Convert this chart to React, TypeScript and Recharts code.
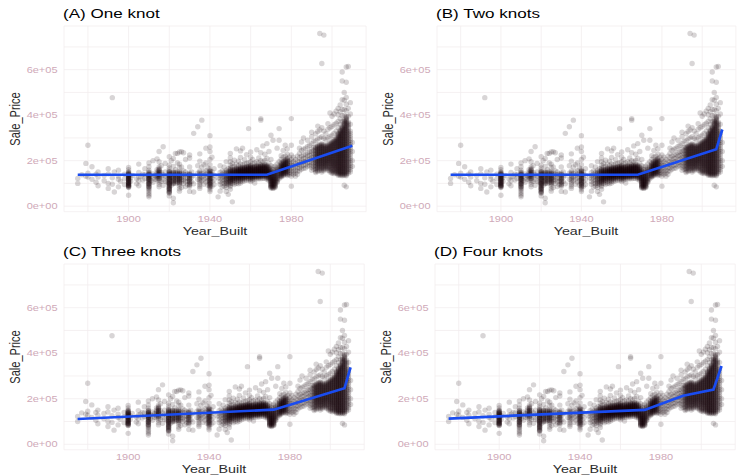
import React from 'react';
import { ScatterChart, Scatter, XAxis, YAxis, CartesianGrid } from 'recharts';

const salePriceByYear: [number, number[]][] = [
  [1875, [100, 122]],
  [1877, [138]],
  [1879, [188, 132]],
  [1880, [268, 128, 145]],
  [1882, [173, 118]],
  [1884, [140, 105]],
  [1885, [128, 90, 150]],
  [1888, [135, 112]],
  [1890, [165, 142, 100, 78]],
  [1892, [477, 125, 96]],
  [1893, [150, 62]],
  [1895, [132, 118, 85, 158]],
  [1896, [110]],
  [1898, [140, 120, 95]],
  [1900, [150, 146, 143, 140, 137, 135, 132, 130, 128, 125, 122, 120, 117, 115, 112, 110, 107, 105, 102, 100, 97, 95, 92, 90, 88, 85, 82, 140, 131, 118, 104, 93, 48, 170, 160]],
  [1901, [125, 110]],
  [1902, [135]],
  [1904, [120, 98]],
  [1905, [148, 128, 112, 90, 185]],
  [1906, [132]],
  [1907, [115, 140]],
  [1908, [138, 122, 165]],
  [1910, [158, 150, 145, 141, 138, 134, 131, 128, 125, 121, 118, 115, 111, 108, 104, 100, 96, 92, 88, 84, 80, 76, 70, 62, 55, 48, 41, 173, 190, 136, 119, 98]],
  [1911, [130, 112]],
  [1912, [142, 125, 105, 200]],
  [1913, [135, 118]],
  [1914, [160, 150, 143, 137, 130, 124, 115, 208]],
  [1915, [172, 165, 160, 155, 150, 146, 142, 138, 134, 128, 122, 115, 105, 95, 85, 240, 195]],
  [1916, [148, 128, 108, 178]],
  [1917, [138, 118, 261, 92]],
  [1918, [150, 132, 110, 188]],
  [1919, [128, 105]],
  [1920, [158, 152, 148, 144, 140, 136, 132, 128, 124, 120, 116, 112, 108, 104, 100, 96, 92, 88, 84, 80, 76, 72, 68, 64, 60, 57, 217, 180, 168, 45, 138, 118, 98, 78]],
  [1921, [145, 128, 110, 92, 200]],
  [1922, [151, 145, 140, 134, 128, 122, 116, 110, 104, 98, 210, 35, 15, 175]],
  [1923, [148, 141, 135, 129, 122, 115, 108, 100, 160, 232]],
  [1924, [150, 144, 138, 131, 125, 118, 111, 104, 232, 190]],
  [1925, [152, 147, 142, 137, 132, 127, 122, 117, 112, 107, 102, 96, 88, 76, 66, 170, 185, 238]],
  [1926, [146, 136, 126, 116, 106, 239, 172, 82]],
  [1927, [140, 128, 115, 100, 235, 155]],
  [1928, [150, 138, 122, 108, 205, 86]],
  [1929, [142, 125, 110, 94]],
  [1930, [146, 141, 136, 131, 126, 121, 116, 110, 104, 98, 92, 86, 172, 212, 225, 65]],
  [1931, [128, 108, 150]],
  [1932, [320, 135, 98, 62]],
  [1934, [349, 145, 118, 178]],
  [1935, [155, 148, 142, 136, 130, 124, 117, 110, 102, 94, 86, 198, 230, 78]],
  [1936, [378, 144, 128, 112, 172]],
  [1937, [150, 134, 118, 96, 182]],
  [1938, [156, 140, 124, 106, 255, 190]],
  [1939, [146, 128, 112, 92, 168]],
  [1940, [162, 156, 151, 147, 143, 139, 135, 131, 127, 123, 119, 115, 111, 107, 103, 99, 95, 90, 85, 80, 72, 64, 310, 260, 240, 205, 182]],
  [1941, [152, 138, 124, 108, 88, 215]],
  [1942, [136, 116, 95, 165]],
  [1944, [41, 125]],
  [1945, [148, 135, 122, 108, 96, 66, 178]],
  [1946, [155, 140, 128, 116, 102, 84]],
  [1947, [148, 136, 125, 113, 100, 88, 172]],
  [1948, [158, 150, 143, 136, 129, 122, 115, 108, 100, 92, 82, 196, 65]],
  [1949, [152, 144, 136, 128, 120, 112, 104, 96, 165, 52]],
  [1950, [168, 162, 157, 152, 148, 144, 140, 136, 132, 128, 124, 120, 116, 112, 108, 103, 98, 92, 86, 180, 195, 212, 232, 74]],
  [1951, [160, 153, 146, 139, 132, 125, 118, 110, 100, 172, 188, 19]],
  [1952, [164, 157, 150, 144, 138, 132, 126, 119, 112, 104, 95, 176, 202]],
  [1953, [168, 161, 155, 149, 143, 137, 131, 125, 118, 110, 100, 184, 252]],
  [1954, [166, 160, 155, 150, 145, 140, 135, 130, 125, 120, 114, 107, 98, 178, 198]],
  [1955, [172, 166, 161, 156, 151, 147, 143, 139, 135, 131, 126, 121, 116, 110, 102, 186, 214, 243]],
  [1956, [170, 164, 158, 153, 148, 144, 140, 136, 132, 127, 122, 116, 108, 182, 255]],
  [1957, [172, 167, 162, 157, 152, 148, 144, 140, 136, 131, 126, 120, 112, 186, 204]],
  [1958, [174, 168, 163, 158, 153, 149, 145, 141, 137, 132, 127, 121, 114, 188, 226]],
  [1959, [176, 170, 165, 160, 155, 150, 146, 142, 138, 133, 128, 122, 115, 341, 192]],
  [1960, [180, 174, 169, 164, 159, 155, 151, 147, 143, 139, 135, 131, 126, 121, 115, 108, 196, 215, 238]],
  [1961, [172, 166, 160, 155, 150, 146, 142, 138, 133, 128, 122, 115, 186, 205]],
  [1962, [176, 170, 164, 159, 154, 150, 146, 142, 137, 132, 126, 119, 190, 102]],
  [1963, [178, 172, 166, 161, 156, 151, 147, 143, 138, 133, 127, 120, 195, 248]],
  [1964, [176, 170, 165, 160, 155, 151, 147, 143, 138, 133, 127, 120, 190, 212]],
  [1965, [182, 176, 170, 165, 160, 155, 151, 147, 143, 139, 134, 128, 121, 200, 235, 385, 378]],
  [1966, [180, 174, 168, 163, 158, 153, 149, 145, 141, 136, 130, 123, 196, 265]],
  [1967, [184, 177, 171, 165, 160, 155, 150, 146, 141, 136, 130, 122, 202, 228]],
  [1968, [180, 174, 168, 162, 157, 152, 147, 143, 138, 132, 125, 118, 210, 275]],
  [1969, [172, 165, 158, 152, 146, 140, 134, 127, 120, 112, 188, 240]],
  [1970, [165, 156, 148, 140, 132, 126, 120, 115, 110, 105, 100, 95, 90, 85, 80, 178, 205, 312]],
  [1971, [160, 150, 141, 133, 126, 119, 113, 107, 101, 95, 89, 83, 78, 172, 290]],
  [1972, [162, 152, 143, 135, 127, 120, 113, 106, 100, 94, 88, 82, 176]],
  [1973, [168, 158, 149, 140, 131, 122, 113, 104, 186, 255]],
  [1974, [176, 168, 160, 152, 144, 136, 128, 120, 195, 341, 290]],
  [1975, [190, 182, 176, 170, 164, 158, 152, 146, 140, 134, 128, 205, 222]],
  [1976, [198, 190, 183, 177, 171, 165, 159, 153, 147, 141, 134, 215, 245]],
  [1977, [205, 197, 190, 184, 178, 172, 166, 160, 154, 148, 140, 220, 268]],
  [1978, [210, 202, 195, 188, 181, 174, 167, 160, 152, 144, 135, 228, 252]],
  [1979, [198, 188, 178, 168, 158, 148, 138, 215]],
  [1980, [205, 192, 180, 168, 156, 144, 132, 225, 268, 385, 88]],
  [1981, [195, 180, 166, 152, 140, 215]],
  [1982, [188, 172, 158, 145, 132, 205]],
  [1983, [198, 182, 168, 154, 140, 220]],
  [1984, [212, 196, 182, 168, 155, 232, 255]],
  [1985, [220, 204, 190, 176, 162, 245, 282]],
  [1986, [225, 210, 195, 180, 166, 250, 300]],
  [1987, [228, 212, 196, 182, 168, 255]],
  [1988, [235, 220, 205, 190, 175, 262, 290]],
  [1989, [240, 224, 208, 192, 178, 268]],
  [1990, [250, 238, 226, 214, 203, 192, 181, 170, 158, 275, 305, 325]],
  [1991, [258, 244, 230, 216, 203, 190, 176, 162, 285]],
  [1992, [262, 252, 242, 232, 222, 212, 202, 192, 182, 172, 160, 148, 288, 318]],
  [1993, [268, 258, 249, 240, 231, 222, 213, 204, 195, 186, 176, 165, 152, 296, 328, 352]],
  [1994, [272, 262, 253, 244, 235, 226, 217, 208, 199, 190, 180, 170, 158, 300, 335, 759]],
  [1995, [275, 266, 257, 248, 239, 230, 221, 212, 203, 194, 185, 175, 164, 150, 305, 345, 627]],
  [1996, [270, 260, 251, 242, 233, 224, 215, 206, 197, 188, 178, 168, 156, 298, 330, 752]],
  [1997, [266, 256, 247, 238, 229, 220, 211, 202, 193, 184, 174, 163, 292, 318]],
  [1998, [272, 263, 254, 245, 236, 227, 218, 209, 200, 191, 181, 170, 158, 300, 338, 362]],
  [1999, [278, 268, 259, 250, 241, 232, 223, 214, 205, 196, 186, 175, 163, 150, 306, 345, 410]],
  [2000, [285, 276, 267, 258, 249, 240, 231, 222, 213, 204, 195, 186, 177, 167, 156, 145, 312, 350, 395]],
  [2001, [292, 283, 274, 265, 256, 247, 238, 229, 220, 211, 202, 193, 184, 175, 165, 154, 143, 320, 358, 405]],
  [2002, [300, 291, 282, 273, 264, 255, 246, 237, 228, 219, 210, 201, 192, 183, 174, 165, 155, 145, 330, 365, 418]],
  [2003, [320, 312, 304, 296, 288, 280, 272, 264, 256, 248, 240, 232, 224, 216, 208, 200, 192, 184, 176, 168, 160, 152, 144, 136, 345, 372, 402, 430]],
  [2004, [335, 327, 319, 311, 303, 295, 287, 279, 271, 263, 255, 247, 239, 231, 223, 215, 207, 199, 191, 183, 175, 167, 159, 151, 143, 135, 360, 385, 415, 445]],
  [2005, [350, 342, 334, 326, 318, 310, 302, 294, 286, 278, 270, 262, 254, 246, 238, 230, 222, 214, 206, 198, 190, 182, 174, 166, 158, 150, 142, 134, 372, 398, 425, 468, 550, 590]],
  [2006, [378, 369, 360, 351, 342, 333, 324, 315, 306, 297, 288, 279, 270, 261, 252, 243, 234, 225, 216, 207, 198, 189, 180, 171, 162, 153, 144, 135, 400, 425, 466, 500, 92]],
  [2007, [395, 386, 377, 368, 359, 350, 341, 332, 323, 314, 305, 296, 287, 278, 269, 260, 251, 242, 233, 224, 215, 206, 197, 188, 179, 170, 161, 152, 143, 134, 420, 448, 478, 612, 545, 85]],
  [2008, [370, 355, 340, 325, 310, 295, 280, 265, 250, 235, 220, 205, 190, 175, 160, 145, 395, 430, 614]],
  [2009, [330, 310, 290, 270, 250, 230, 210, 190, 170, 150, 360, 405, 455]],
  [2010, [280, 240, 200, 175]],
];

// extra readings inside the solid black cores of the cloud
const denseCoreByYear: [number, number[]][] = [
  [1900, [148, 138, 126, 114, 103, 91, 84]],
  [1910, [147, 139, 129, 119, 109, 98, 86]],
  [1915, [158, 148, 140, 131, 124]],
  [1920, [150, 142, 134, 126, 118, 110, 102, 94, 86, 74, 62]],
  [1922, [148, 137, 125, 113, 101]],
  [1925, [145, 135, 125, 115, 104]],
  [1930, [139, 128, 118, 107, 95]],
  [1940, [154, 145, 137, 129, 121, 113, 105, 97, 88]],
  [1948, [146, 132, 118, 104]],
  [1950, [158, 150, 142, 134, 126, 118, 110]],
  [1951, [156, 149, 142, 135, 128, 121, 114]],
  [1952, [160, 153, 147, 141, 135, 129, 122, 115]],
  [1953, [164, 158, 152, 146, 140, 134, 128, 121]],
  [1954, [162, 157, 152, 147, 142, 137, 132, 127, 122]],
  [1955, [168, 163, 158, 153, 149, 145, 141, 137, 133, 128]],
  [1956, [167, 161, 155, 150, 146, 142, 138, 134, 129, 124]],
  [1957, [169, 164, 159, 154, 150, 146, 142, 138, 133, 128]],
  [1958, [171, 165, 160, 155, 151, 147, 143, 139, 134, 129]],
  [1959, [173, 167, 162, 157, 152, 148, 144, 140, 135, 130]],
  [1960, [177, 171, 166, 161, 157, 153, 149, 145, 141, 137, 133, 128]],
  [1961, [169, 163, 157, 152, 148, 144, 140, 135, 130, 125]],
  [1962, [173, 167, 161, 156, 152, 148, 144, 139, 134, 129]],
  [1963, [175, 169, 163, 158, 153, 149, 145, 140, 135, 130]],
  [1964, [173, 167, 162, 157, 153, 149, 145, 140, 135, 130]],
  [1965, [179, 173, 167, 162, 157, 153, 149, 145, 141, 136, 131]],
  [1966, [177, 171, 165, 160, 155, 151, 147, 143, 138, 133]],
  [1967, [180, 174, 168, 162, 157, 152, 148, 143, 138, 133]],
  [1968, [177, 171, 165, 159, 154, 149, 145, 140, 135, 128]],
  [1969, [168, 161, 155, 149, 143, 137, 130, 123]],
  [1970, [152, 144, 136, 129, 123, 117, 112, 107, 102, 97, 92, 87, 82]],
  [1971, [145, 137, 129, 122, 116, 110, 104, 98, 92, 86, 80]],
  [1972, [148, 139, 131, 123, 116, 109, 103, 97, 91, 85]],
  [1973, [163, 153, 144, 135, 126, 117, 108]],
  [1975, [186, 179, 173, 167, 161, 155, 149, 143, 137, 131]],
  [1976, [194, 186, 180, 174, 168, 162, 156, 150, 144, 137]],
  [1977, [201, 193, 187, 181, 175, 169, 163, 157, 151, 144]],
  [1978, [206, 198, 191, 184, 177, 170, 163, 156, 148, 140]],
  [1992, [257, 247, 237, 227, 217, 207, 197, 187, 177, 166, 154]],
  [1993, [263, 253, 244, 235, 226, 217, 208, 199, 190, 181, 170, 158]],
  [1994, [267, 257, 248, 239, 230, 221, 212, 203, 194, 185, 175, 164]],
  [1995, [270, 261, 252, 243, 234, 225, 216, 207, 198, 189, 180, 170, 157]],
  [1996, [265, 255, 246, 237, 228, 219, 210, 201, 192, 183, 173, 162]],
  [1997, [261, 251, 242, 233, 224, 215, 206, 197, 188, 179, 168]],
  [1998, [267, 258, 249, 240, 231, 222, 213, 204, 195, 186, 175, 164]],
  [1999, [273, 263, 254, 245, 236, 227, 218, 209, 200, 191, 180, 169, 156]],
  [2000, [280, 271, 262, 253, 244, 235, 226, 217, 208, 199, 190, 181, 172, 161, 150]],
  [2001, [287, 278, 269, 260, 251, 242, 233, 224, 215, 206, 197, 188, 179, 170, 159, 148]],
  [2002, [295, 286, 277, 268, 259, 250, 241, 232, 223, 214, 205, 196, 187, 178, 169, 160, 150]],
  [2003, [316, 308, 300, 292, 284, 276, 268, 260, 252, 244, 236, 228, 220, 212, 204, 196, 188, 180, 172, 164, 156, 148, 140]],
  [2004, [331, 323, 315, 307, 299, 291, 283, 275, 267, 259, 251, 243, 235, 227, 219, 211, 203, 195, 187, 179, 171, 163, 155, 147, 139]],
  [2005, [346, 338, 330, 322, 314, 306, 298, 290, 282, 274, 266, 258, 250, 242, 234, 226, 218, 210, 202, 194, 186, 178, 170, 162, 154, 146, 138]],
  [2006, [373, 364, 355, 346, 337, 328, 319, 310, 301, 292, 283, 274, 265, 256, 247, 238, 229, 220, 211, 202, 193, 184, 175, 166, 157, 148, 139]],
  [2007, [390, 381, 372, 363, 354, 345, 336, 327, 318, 309, 300, 291, 282, 273, 264, 255, 246, 237, 228, 219, 210, 201, 192, 183, 174, 165, 156, 147, 138]],
  [2008, [362, 347, 332, 317, 302, 287, 272, 257, 242, 227, 212, 197, 182, 167, 152]],
  [2009, [320, 300, 280, 260, 240, 220, 200, 180, 160]],
];

// fitted piecewise-linear lines, [year, $1000s]
const oneKnotFit = [[1875, 138], [1968, 138], [2010, 266]];
const twoKnotFit = [[1875, 138], [1968, 138], [2007, 250], [2010, 337]];
const threeKnotFit = [[1875, 111], [1972, 152], [2007, 246], [2010, 338]];
const fourKnotFit = [[1875, 113], [1972, 151], [1991, 213], [2006, 240], [2010, 344]];

const panelTitles = ['(A) One knot', '(B) Two knots', '(C) Three knots', '(D) Four knots'];

const yearTicks = [1880, 1900, 1920, 1940, 1960, 1980, 2000];
const labeledYears = [1900, 1940, 1980];
const priceTicks = [0, 100000, 200000, 300000, 400000, 500000, 600000, 700000];
const labeledPrices = [0, 200000, 400000, 600000];

const yearDomain = [1868.25, 2016.75];
const priceDomain = [-24300, 792000];

const points = [...salePriceByYear, ...denseCoreByYear].flatMap(([year, prices]) =>
  prices.map(p => ({ year, price: p * 1000 }))
);
const toLine = (fit: number[][]) => fit.map(([year, p]) => ({ year, price: p * 1000 }));

const FONT = "'Liberation Sans', Arial, sans-serif";
const tickColor = '#cfa9b8';
const gridColor = '#f3edef';
const lineColor = '#1a4cf0';
const STRETCH = 'scale(1.1,0.85)';

const sciLabel = (v: number) => (v === 0 ? '0e+00' : `${v / 100000}e+05`);

const YearTick = (props: any) => {
  const { x, y, payload } = props;
  if (!labeledYears.includes(payload.value)) return <g />;
  return (
    <g transform={`translate(${x},${y})`}>
      <text transform={STRETCH} textAnchor="middle" dy="0.71em" fontSize={10} fill={tickColor} fontFamily={FONT}>
        {payload.value}
      </text>
    </g>
  );
};

const PriceTick = (props: any) => {
  const { x, y, payload } = props;
  if (!labeledPrices.includes(payload.value)) return <g />;
  return (
    <g transform={`translate(${x},${y})`}>
      <text transform={STRETCH} textAnchor="end" dy="0.35em" fontSize={10} fill={tickColor} fontFamily={FONT}>
        {sciLabel(payload.value)}
      </text>
    </g>
  );
};

const Dot = (props: any) => (
  <circle cx={props.cx} cy={props.cy} r={2.7} fill="#1a030c" fillOpacity={0.17} />
);

// plot rectangles [left, top, right, bottom] in page pixels
const panelBoxes = [
  [63.7, 25.8, 365.8, 211.5],
  [436.8, 25.8, 735.7, 211.5],
  [64.1, 264, 364.3, 449.8],
  [435.1, 264, 735.3, 449.8],
];
const fits = [oneKnotFit, twoKnotFit, threeKnotFit, fourKnotFit];

const Panel = ({ index }: { index: number }) => {
  const [x0, y0, x1, y1] = panelBoxes[index];
  const width = x1 - x0 + 52;
  const height = y1 - y0 + 30;
  const cx = (x0 + x1) / 2;
  const cy = (y0 + y1) / 2;
  return (
    <>
      <div
        style={{
          position: 'absolute', left: x0 - 1, top: y0 - 12, fontFamily: FONT, fontSize: 15.5,
          lineHeight: 1, whiteSpace: 'nowrap', color: '#000',
          transform: `translateY(-50%) ${STRETCH}`, transformOrigin: 'left center',
        }}
      >
        {panelTitles[index]}
      </div>
      <div
        style={{
          position: 'absolute', left: cx, top: y1 + 19.5, fontFamily: FONT, fontSize: 13,
          lineHeight: 1, whiteSpace: 'nowrap', color: '#2b2b2b',
          transform: `translate(-50%,-50%) ${STRETCH}`,
        }}
      >
        Year_Built
      </div>
      <div
        style={{
          position: 'absolute', left: x0 - 49, top: cy, fontFamily: FONT, fontSize: 13,
          lineHeight: 1, whiteSpace: 'nowrap', color: '#2b2b2b',
          transform: 'translate(-50%,-50%) rotate(-90deg) scale(0.85,1.1)',
        }}
      >
        Sale_Price
      </div>
      <div style={{ position: 'absolute', left: x0 - 50, top: y0 - 5 }}>
        <ScatterChart width={width} height={height} margin={{ top: 5, right: 2, left: 0, bottom: 0 }}>
          <CartesianGrid stroke={gridColor} strokeWidth={0.8} />
          <XAxis
            type="number"
            dataKey="year"
            domain={yearDomain}
            ticks={yearTicks}
            interval={0}
            allowDataOverflow
            axisLine={false}
            tickLine={false}
            tickSize={0}
            tickMargin={4}
            height={25}
            tick={YearTick}
          />
          <YAxis
            type="number"
            dataKey="price"
            domain={priceDomain}
            ticks={priceTicks}
            interval={0}
            allowDataOverflow
            axisLine={false}
            tickLine={false}
            tickSize={0}
            tickMargin={6.5}
            width={50}
            tick={PriceTick}
          />
          <Scatter data={points} shape={Dot} isAnimationActive={false} />
          <Scatter
            data={toLine(fits[index])}
            line={{ stroke: lineColor, strokeWidth: 2.7 }}
            stroke={lineColor}
            lineType="joint"
            shape={() => <g />}
            isAnimationActive={false}
          />
        </ScatterChart>
      </div>
    </>
  );
};

export default function App() {
  return (
    <div style={{ position: 'absolute', left: 0, top: 0, width: 737, height: 475, background: '#fff' }}>
      {[0, 1, 2, 3].map(i => (
        <Panel key={i} index={i} />
      ))}
    </div>
  );
}
